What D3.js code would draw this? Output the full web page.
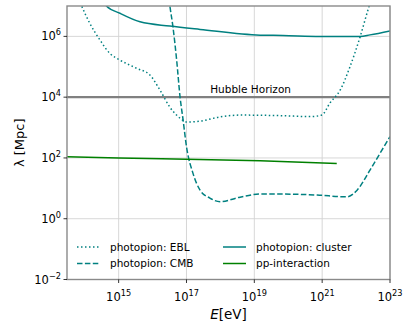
<!DOCTYPE html>
<html><head><meta charset="utf-8">
<script src="https://cdn.jsdelivr.net/npm/d3@7"></script>
<style>body{margin:0;background:#fff}svg{display:block}text{font-family:"DejaVu Sans",sans-serif}</style>
</head><body><svg id="c" width="411" height="329"></svg>
<script>
// log10(E/eV) and log10(lambda/Mpc)
const eblLogE   = [13.7, 13.91, 14.15, 14.45, 14.74, 15.04, 15.53, 15.92, 16.22, 16.51, 16.81, 17.01, 17.40, 17.99, 18.58, 19.84, 20.64, 20.99, 21.23, 21.53, 21.82, 22.12, 22.35, 22.5];
const eblLogL   = [7.6, 7.0, 6.43, 5.88, 5.44, 5.22, 4.95, 4.73, 4.23, 3.67, 3.31, 3.18, 3.21, 3.35, 3.41, 3.39, 3.36, 3.41, 3.81, 4.23, 5.0, 5.99, 6.87, 7.4];
const cmbLogE   = [16.45, 16.51, 16.60, 16.71, 16.81, 16.90, 17.0, 17.19, 17.40, 17.69, 17.99, 18.58, 19.17, 19.84, 20.85, 21.73, 22.03, 22.41, 22.71, 23.0];
const cmbLogL   = [7.5, 7.0, 6.32, 5.22, 4.01, 3.25, 2.37, 1.50, 0.94, 0.68, 0.56, 0.71, 0.81, 0.81, 0.78, 0.72, 0.94, 1.60, 2.16, 2.70];
const clusterLogE = [14.45, 14.64, 15.04, 15.63, 16.51, 17.40, 19.17, 19.84, 20.94, 22.12, 22.41, 23.0];
const clusterLogL = [7.4, 7.0, 6.76, 6.48, 6.34, 6.23, 6.04, 6.03, 6.0, 6.0, 6.05, 6.18];
const ppLogE    = [13.4, 15.0, 17.0, 19.17, 21.43];
const ppLogL    = [2.04, 2.0, 1.96, 1.91, 1.82];
const hubbleLambda = 1e4;
const xTickExp = [15, 17, 19, 21, 23];
const yTickExp = [-2, 0, 2, 4, 6];
const legendLabels = ["photopion: EBL", "photopion: CMB", "photopion: cluster", "pp-interaction"];

const svg = d3.select("#c");
const L = 67, R = 390, T = 6, B = 279.5;
const x = d3.scaleLog().domain([3e13, 1e23]).range([L, R]);
const y = d3.scaleLog().domain([1e-2, 1e7]).range([B, T]);

svg.append("clipPath").attr("id","clip").append("rect")
  .attr("x",L).attr("y",T).attr("width",R-L).attr("height",B-T);

// grid
const grid = svg.append("g");
xTickExp.forEach(e => grid.append("line").attr("x1",x(10**e)).attr("x2",x(10**e)).attr("y1",T).attr("y2",B)
  .attr("stroke","#d3d3d3").attr("stroke-width",0.9));
yTickExp.forEach(e => grid.append("line").attr("x1",L).attr("x2",R).attr("y1",y(10**e)).attr("y2",y(10**e))
  .attr("stroke","#d3d3d3").attr("stroke-width",0.9));

const plot = svg.append("g").attr("clip-path","url(#clip)");
// Hubble horizon
plot.append("line").attr("x1",L).attr("x2",R).attr("y1",y(hubbleLambda)).attr("y2",y(hubbleLambda))
  .attr("stroke","#808080").attr("stroke-width",2.2);
svg.append("text").attr("x",x(10**17.7)).attr("y",y(hubbleLambda)-4).attr("font-size",10.5).attr("fill","#000")
  .text("Hubble Horizon");

const mk = (ex, ly) => ex.map((e,i)=>[10**e, 10**ly[i]]);
const line = d3.line().x(d=>x(d[0])).y(d=>y(d[1])).curve(d3.curveMonotoneX);
const series = [
  {d: mk(eblLogE, eblLogL), c:"#008080", dash:"1.5,2.5"},
  {d: mk(cmbLogE, cmbLogL), c:"#008080", dash:"5.5,2.4"},
  {d: mk(clusterLogE, clusterLogL), c:"#008080", dash:null},
  {d: mk(ppLogE, ppLogL), c:"#008000", dash:null}
];
series.forEach(s => {
  plot.append("path").attr("d", line(s.d)).attr("fill","none").attr("stroke",s.c)
    .attr("stroke-width",1.5).attr("stroke-dasharray",s.dash);
});

// spines
svg.append("rect").attr("x",L).attr("y",T).attr("width",R-L).attr("height",B-T)
  .attr("fill","none").attr("stroke","#8a8a8a").attr("stroke-width",1.4);

// axes
const xAxis = svg.append("g");
xTickExp.forEach(e => {
  const px = x(10**e);
  xAxis.append("line").attr("x1",px).attr("x2",px).attr("y1",B).attr("y2",B+3.5).attr("stroke","#000").attr("stroke-width",0.8);
  const t = xAxis.append("text").attr("x",px).attr("y",B+21).attr("text-anchor","middle").attr("font-size",11.5);
  t.append("tspan").text("10");
  t.append("tspan").attr("dy",-5).attr("font-size",8.2).text(String(e));
});
const yAxis = svg.append("g");
yTickExp.forEach(e => {
  const py = y(10**e);
  yAxis.append("line").attr("x1",L-3.5).attr("x2",L).attr("y1",py).attr("y2",py).attr("stroke","#000").attr("stroke-width",0.8);
  const t = yAxis.append("text").attr("x",L-6).attr("y",py+4).attr("text-anchor","end").attr("font-size",11.5);
  t.append("tspan").text("10");
  t.append("tspan").attr("dy",-5).attr("font-size",8.2).text(e<0 ? "\u2212"+Math.abs(e) : String(e));
});

// axis labels
const xl = svg.append("text").attr("x",(L+R)/2).attr("y",319).attr("text-anchor","middle").attr("font-size",13.5);
xl.append("tspan").attr("font-style","italic").text("E");
xl.append("tspan").text("[eV]");
svg.append("text").attr("transform",`translate(24,${(T+B)/2}) rotate(-90)`).attr("text-anchor","middle")
  .attr("font-size",13).text("λ [Mpc]");

// legend
const leg = svg.append("g");
const legPos = [[77,247],[77,263.5],[223,247],[223,263.5]];
series.forEach((s,i) => {
  const [lx,ly] = legPos[i];
  leg.append("line").attr("x1",lx).attr("x2",lx+23).attr("y1",ly).attr("y2",ly)
    .attr("stroke",s.c).attr("stroke-width",1.5).attr("stroke-dasharray",s.dash);
  leg.append("text").attr("x",lx+33).attr("y",ly+3.8).attr("font-size",10.5).text(legendLabels[i]);
});
</script></body></html>
